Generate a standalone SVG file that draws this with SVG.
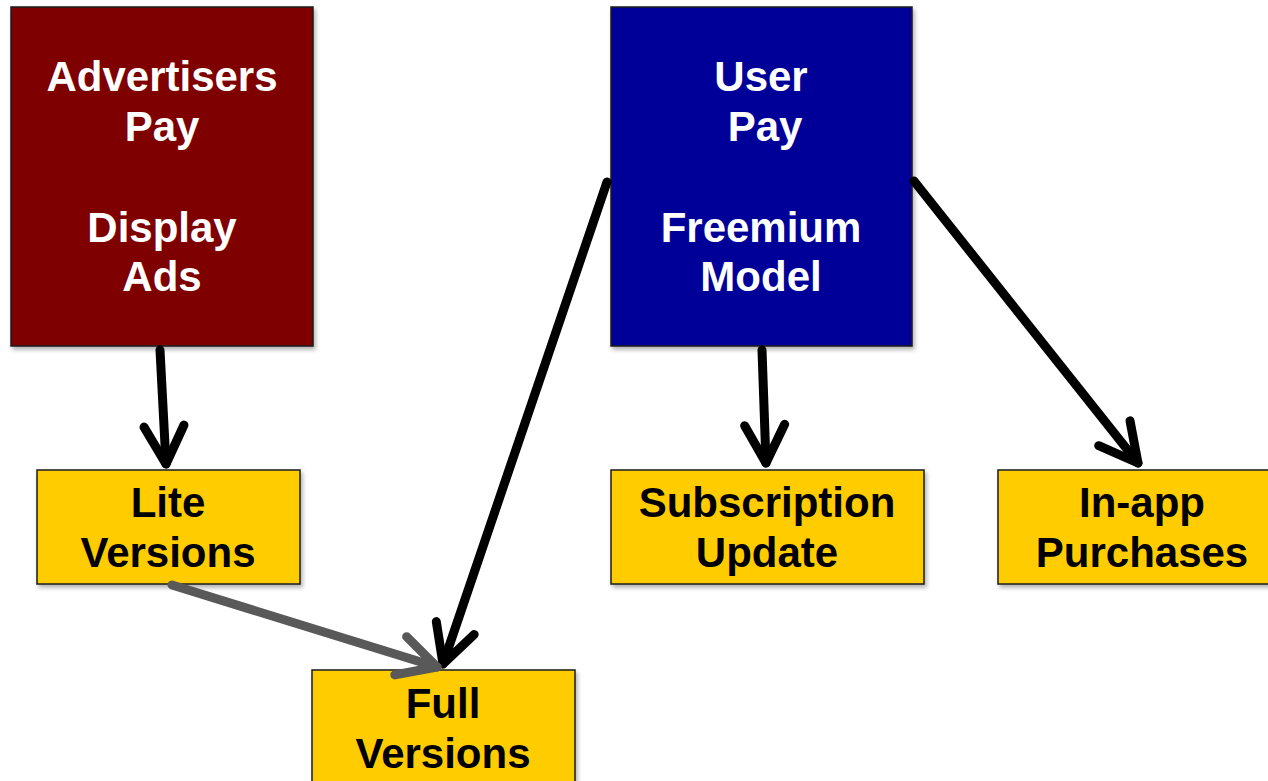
<svg xmlns="http://www.w3.org/2000/svg" width="1268" height="781" viewBox="0 0 1268 781">
  <style>
    .box { stroke: #1a1a1a; stroke-width: 1.5; filter: url(#shadow); }
    .red { fill: #7f0000; }
    .blue { fill: #000099; }
    .gold { fill: #ffcc00; }
    text { font-family: "Liberation Sans", Arial, sans-serif; font-weight: bold; font-size: 42px; text-anchor: middle; }
    .light { fill: #ffffff; }
    .dark { fill: #000000; }
    .conn { fill: none; stroke-width: 9; stroke-linecap: round; }
    .black { stroke: #000000; marker-end: url(#headBlack); }
    .grey { stroke: #595959; marker-end: url(#headGrey); }
  </style>
  <defs>
    <filter id="shadow" x="-5%" y="-5%" width="115%" height="115%">
      <feDropShadow dx="2" dy="3" stdDeviation="2" flood-color="#000" flood-opacity="0.3"/>
    </filter>
    <marker id="headBlack" markerUnits="userSpaceOnUse" viewBox="-50 -30 60 60" refX="0" refY="0" markerWidth="60" markerHeight="60" orient="auto" overflow="visible">
      <path d="M-38,-20 L0,0 L-38,20" fill="none" stroke="#000000" stroke-width="9" stroke-linecap="round" stroke-linejoin="round"/>
    </marker>
    <marker id="headGrey" markerUnits="userSpaceOnUse" viewBox="-50 -30 60 60" refX="0" refY="0" markerWidth="60" markerHeight="60" orient="auto" overflow="visible">
      <path d="M-38,-20 L0,0 L-38,20" fill="none" stroke="#595959" stroke-width="9" stroke-linecap="round" stroke-linejoin="round"/>
    </marker>
  </defs>

  <g id="advertisers-pay">
    <rect class="box red" x="11" y="7" width="302" height="339"/>
    <text class="light" x="162" y="91">Advertisers</text>
    <text class="light" x="162" y="141">Pay</text>
    <text class="light" x="162" y="242">Display</text>
    <text class="light" x="162" y="291">Ads</text>
  </g>

  <g id="user-pay">
    <rect class="box blue" x="611" y="7" width="301" height="339"/>
    <text class="light" x="761" y="91">User</text>
    <text class="light" x="765" y="141">Pay</text>
    <text class="light" x="761" y="242">Freemium</text>
    <text class="light" x="761" y="291">Model</text>
  </g>

  <g id="lite-versions">
    <rect class="box gold" x="37" y="470" width="263" height="114"/>
    <text class="dark" x="168" y="517">Lite</text>
    <text class="dark" x="168" y="567">Versions</text>
  </g>

  <g id="subscription-update">
    <rect class="box gold" x="611" y="470" width="313" height="114"/>
    <text class="dark" x="767" y="517">Subscription</text>
    <text class="dark" x="767" y="567">Update</text>
  </g>

  <g id="in-app-purchases">
    <rect class="box gold" x="998" y="470" width="290" height="114"/>
    <text class="dark" x="1142" y="517">In-app</text>
    <text class="dark" x="1142" y="567">Purchases</text>
  </g>

  <g id="full-versions">
    <rect class="box gold" x="312" y="670" width="263" height="130"/>
    <text class="dark" x="443" y="718">Full</text>
    <text class="dark" x="443" y="768">Versions</text>
  </g>

  <g id="connectors">
    <line class="conn black" x1="160" y1="350" x2="166" y2="464"/>
    <line class="conn black" x1="607" y1="182" x2="443" y2="664"/>
    <line class="conn black" x1="762" y1="350" x2="766" y2="463"/>
    <line class="conn black" x1="914" y1="181" x2="1138" y2="463"/>
    <line class="conn grey" x1="172" y1="585" x2="437" y2="667"/>
  </g>
</svg>
